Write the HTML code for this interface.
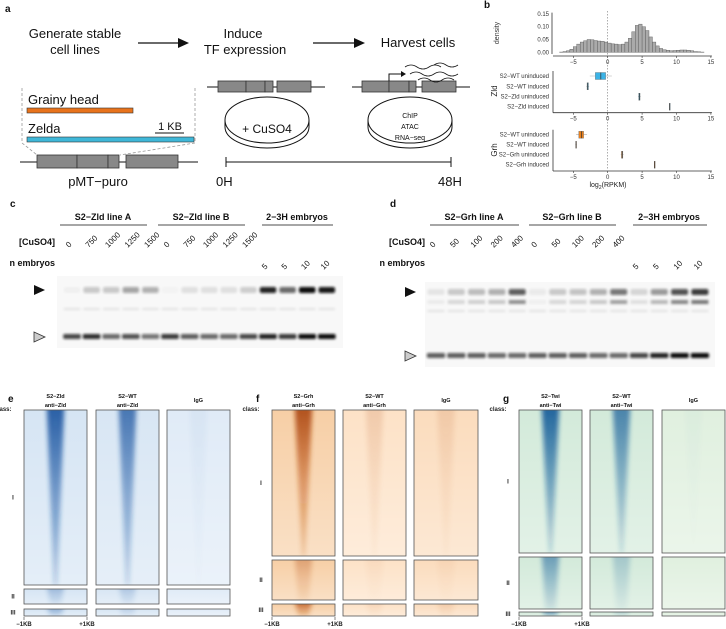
<!DOCTYPE html>
<html><head><meta charset="utf-8"><style>
html,body{margin:0;padding:0;background:#fff;}
svg{display:block;font-family:"Liberation Sans",Arial,sans-serif;}
</style></head><body>
<svg id="fig" width="726" height="629" viewBox="0 0 726 629">
<defs>
<filter id="blur3" x="-50%" y="-10%" width="200%" height="120%"><feGaussianBlur stdDeviation="2.5"/></filter>
<filter id="blur1" x="-20%" y="-80%" width="140%" height="260%"><feGaussianBlur stdDeviation="1.2"/></filter>
<linearGradient id="gBlue" x1="0" y1="0" x2="0" y2="1"><stop offset="0" stop-color="#134f9c" stop-opacity="1"/><stop offset="0.5" stop-color="#1b5aa6" stop-opacity="0.6"/><stop offset="1" stop-color="#1b5aa6" stop-opacity="0.25"/></linearGradient>
<linearGradient id="gOrange" x1="0" y1="0" x2="0" y2="1"><stop offset="0" stop-color="#a8420a" stop-opacity="1"/><stop offset="0.5" stop-color="#c0560f" stop-opacity="0.55"/><stop offset="1" stop-color="#c0560f" stop-opacity="0.2"/></linearGradient>
<linearGradient id="gTeal" x1="0" y1="0" x2="0" y2="1"><stop offset="0" stop-color="#0f5596" stop-opacity="1"/><stop offset="0.5" stop-color="#17629e" stop-opacity="0.6"/><stop offset="1" stop-color="#17629e" stop-opacity="0.2"/></linearGradient>
<linearGradient id="fadeBg" x1="0" y1="0" x2="0" y2="1"><stop offset="0" stop-color="#fff" stop-opacity="0"/><stop offset="1" stop-color="#fff" stop-opacity="0.35"/></linearGradient>
</defs>

<!-- Panel a -->
<g font-size="13" fill="#111">
<text x="5" y="12" font-size="10" font-weight="bold">a</text>
<text x="75" y="38" text-anchor="middle">Generate stable</text>
<text x="75" y="54" text-anchor="middle">cell lines</text>
<line x1="138" y1="43" x2="180" y2="43" stroke="#111" stroke-width="1.2"/>
<polygon points="178,38 189,43 178,48" fill="#111"/>
<text x="243" y="38" text-anchor="middle">Induce</text>
<text x="245" y="54" text-anchor="middle">TF expression</text>
<line x1="313" y1="43" x2="356" y2="43" stroke="#111" stroke-width="1.2"/>
<polygon points="354,38 365,43 354,48" fill="#111"/>
<text x="418" y="47" text-anchor="middle">Harvest cells</text>

<path d="M22,88 V143 L37,155 M195,88 V143 L120,155" fill="none" stroke="#999" stroke-dasharray="3,2" stroke-width="0.8"/>
<text x="28" y="104">Grainy head</text>
<rect x="27" y="108" width="106" height="5" fill="#e8731c" stroke="#333" stroke-width="0.6"/>
<text x="28" y="133">Zelda</text>
<text x="170" y="130" text-anchor="middle" font-size="11">1 KB</text>
<line x1="155" y1="133" x2="184" y2="133" stroke="#111" stroke-width="1"/>
<rect x="27" y="137" width="167" height="5" fill="#3fb7d8" stroke="#333" stroke-width="0.6"/>
<g>
<line x1="20" y1="162" x2="198" y2="162" stroke="#111"/>
<rect x="37" y="155" width="40" height="13" fill="#888" stroke="#333" stroke-width="0.8"/>
<rect x="77" y="155" width="31" height="13" fill="#888" stroke="#333" stroke-width="0.8"/>
<rect x="108" y="155" width="11" height="13" fill="#888" stroke="#333" stroke-width="0.8"/>
<rect x="126" y="155" width="52" height="13" fill="#888" stroke="#333" stroke-width="0.8"/>
</g>
<text x="98" y="186" text-anchor="middle">pMT−puro</text>

<g>
<line x1="207" y1="87" x2="325" y2="87" stroke="#111"/>
<rect x="218" y="81" width="28" height="11" fill="#888" stroke="#333" stroke-width="0.8"/>
<rect x="246" y="81" width="19" height="11" fill="#888" stroke="#333" stroke-width="0.8"/>
<rect x="265" y="81" width="8" height="11" fill="#888" stroke="#333" stroke-width="0.8"/>
<rect x="277" y="81" width="34" height="11" fill="#888" stroke="#333" stroke-width="0.8"/>
</g>
<g fill="none" stroke="#111">
<ellipse cx="267" cy="120" rx="42" ry="23"/>
<path d="M225,127 A42,21 0 0 0 309,127"/>
<line x1="225" y1="120" x2="225" y2="127"/><line x1="309" y1="120" x2="309" y2="127"/>
</g>
<text x="267" y="133" text-anchor="middle" font-size="12">+ CuSO4</text>

<g>
<line x1="352" y1="87" x2="470" y2="87" stroke="#111"/>
<rect x="362" y="81" width="27" height="11" fill="#888" stroke="#333" stroke-width="0.8"/>
<rect x="389" y="81" width="20" height="11" fill="#888" stroke="#333" stroke-width="0.8"/>
<rect x="409" y="81" width="7" height="11" fill="#888" stroke="#333" stroke-width="0.8"/>
<rect x="422" y="81" width="34" height="11" fill="#888" stroke="#333" stroke-width="0.8"/>
<path d="M389,81 V74 H402" fill="none" stroke="#111"/><polygon points="401,71 406,74 401,77" fill="#111"/>
<path d="M405,67 q6,-4 12,0 t12,0 t12,0 M410,74 q6,-4 12,0 t12,0 t12,0 t12,0 M418,80 q6,-4 12,0 t12,0 t12,0 M434,65 q6,-4 12,0 t12,0" fill="none" stroke="#111" stroke-width="0.8"/>
</g>
<g fill="none" stroke="#111">
<ellipse cx="410" cy="120" rx="42" ry="23"/>
<path d="M368,127 A42,21 0 0 0 452,127"/>
<line x1="368" y1="120" x2="368" y2="127"/><line x1="452" y1="120" x2="452" y2="127"/>
</g>
<text x="410" y="118" text-anchor="middle" font-size="7">ChIP</text>
<text x="410" y="129" text-anchor="middle" font-size="7">ATAC</text>
<text x="410" y="140" text-anchor="middle" font-size="7">RNA−seq</text>
<g stroke="#111">
<line x1="226" y1="162" x2="451" y2="162"/><line x1="226" y1="157" x2="226" y2="167"/><line x1="451" y1="157" x2="451" y2="167"/>
</g>
<text x="216" y="186">0H</text>
<text x="438" y="186">48H</text>
</g>

<!-- Panel b -->
<g id="panelB" font-size="6" fill="#333">
<text x="484" y="8" font-size="10" font-weight="bold" fill="#111">b</text>
</g>

<g id="panelC"></g>
<g id="panelD"></g>
<g id="panelH"></g>
</svg>

<script>
// ---------- Panel b data ----------
const histBinStart = -7, histBinWidth = 0.5;
const histDensity = [0.001,0.003,0.006,0.012,0.022,0.032,0.040,0.045,0.050,0.049,0.046,0.044,0.043,0.040,0.036,0.033,0.032,0.030,0.032,0.040,0.055,0.080,0.105,0.110,0.100,0.085,0.060,0.040,0.025,0.015,0.010,0.008,0.006,0.007,0.008,0.009,0.009,0.008,0.006,0.003,0.002,0.001];
const xTicks = [-5,0,5,10,15];
const yTicks = [0,0.05,0.10,0.15];
const zldLabels = ["S2−WT uninduced","S2−WT induced","S2−Zld uninduced","S2−Zld induced"];
const zldMed = [-1.0,-2.9,4.6,9.0];
const zldQ1 = [-1.8,-3.0,4.5,8.98];
const zldQ3 = [-0.3,-2.8,4.7,9.02];
const zldWlo = [-2.6,-3.1,4.4,8.98];
const zldWhi = [0.6,-2.7,4.8,9.02];
const grhLabels = ["S2−WT uninduced","S2−WT induced","S2−Grh uninduced","S2−Grh induced"];
const grhMed = [-3.8,-4.6,2.1,6.8];
const grhQ1 = [-4.2,-4.65,2.0,6.78];
const grhQ3 = [-3.5,-4.55,2.2,6.82];
const grhWlo = [-4.6,-4.7,1.9,6.78];
const grhWhi = [-3.0,-4.5,2.3,6.82];

// ---------- Gel data (relative band intensity 0..1) ----------
const cLanesTop = [0.03,0.2,0.2,0.35,0.3,0.02,0.1,0.1,0.1,0.18,0.9,0.6,1.0,0.95];
const cLanesBottom = [0.75,0.85,0.6,0.7,0.55,0.8,0.65,0.6,0.6,0.75,0.9,0.8,1.0,1.0];
const dLanesTop = [0.08,0.2,0.25,0.3,0.65,0.06,0.2,0.22,0.3,0.55,0.15,0.4,0.7,0.8];
const dLanesBottom = [0.65,0.65,0.65,0.6,0.6,0.65,0.65,0.65,0.6,0.6,0.75,0.9,1.0,1.0];
const cDoses = ["0","750","1000","1250","1500","0","750","1000","1250","1500"];
const dDoses = ["0","50","100","200","400","0","50","100","200","400"];
const nEmbryos = ["5","5","10","10"];

const NS="http://www.w3.org/2000/svg";
function el(tag, attrs, parent, txt){const e=document.createElementNS(NS,tag);for(const k in attrs)e.setAttribute(k,attrs[k]);if(txt!==undefined)e.textContent=txt;parent.appendChild(e);return e;}

// ----- panel b -----
(function(){
const g=document.getElementById('panelB');
const X=v=>607.7+6.88*v;
const Yh=d=>52.3-d*256;
el('line',{x1:552,y1:Yh(0.155),x2:552,y2:54,stroke:'#333','stroke-width':0.8},g);
yTicks.forEach(t=>{
  const l=el('text',{x:549,y:Yh(t)+2,'text-anchor':'end'},g,t.toFixed(2));
  
  
});
const yl=el('text',{x:0,y:0,transform:'translate(499,33) rotate(-90)','text-anchor':'middle','font-size':7},g,'density');


el('line',{x1:X(0),y1:11,x2:X(0),y2:170,stroke:'#777','stroke-width':0.6,'stroke-dasharray':'1.5,1.5'},g);
histDensity.forEach((d,i)=>{
  const x0=X(histBinStart+i*histBinWidth), x1=X(histBinStart+(i+1)*histBinWidth);
  const r=el('rect',{x:x0,y:Yh(d),width:x1-x0,height:Yh(0)-Yh(d),fill:'#aaa',stroke:'#555','stroke-width':0.4},g);
  
  
});
function xaxis(y){
  el('line',{x1:553,y1:y,x2:X(15)+1,y2:y,stroke:'#333','stroke-width':0.8},g);
  xTicks.forEach(t=>{
    el('line',{x1:X(t),y1:y,x2:X(t),y2:y+2,stroke:'#333','stroke-width':0.6},g);
    const l=el('text',{x:X(t),y:y+8,'text-anchor':'middle'},g,t<0?'−'+(-t):String(t));
    
    
  });
}
xaxis(56);
function boxes(rows,labels,med,q1,q3,wlo,whi,col,axisY,title,titleY){
  el('line',{x1:553,y1:rows[0]-5,x2:553,y2:axisY,stroke:'#333','stroke-width':0.8},g);
  labels.forEach((lab,i)=>{
    const y=rows[i];
    const t=el('text',{x:549,y:y+2,'text-anchor':'end'},g,lab);
    
    
    el('line',{x1:X(wlo[i]),y1:y,x2:X(whi[i]),y2:y,stroke:'#aaa','stroke-width':0.6},g);
    const b=el('rect',{x:X(q1[i]),y:y-3.5,width:Math.max(0.8,X(q3[i])-X(q1[i])),height:7,fill:col,stroke:'#777','stroke-width':0.4},g);
    
    
    el('line',{x1:X(med[i]),y1:y-3.5,x2:X(med[i]),y2:y+3.5,stroke:'#333','stroke-width':0.7},g);
  });
  xaxis(axisY);
  const tt=el('text',{x:0,y:0,transform:'translate(497,'+titleY+') rotate(-90)','text-anchor':'middle','font-size':8,fill:'#222'},g,title);
  
  
}
boxes([76,86.3,96.7,106.7],zldLabels,zldMed,zldQ1,zldQ3,zldWlo,zldWhi,'#3bb3e6',112.7,'Zld',91);
boxes([134.7,144.7,154.7,164.7],grhLabels,grhMed,grhQ1,grhQ3,grhWlo,grhWhi,'#e8801e',171,'Grh',150);
const xt=el('text',{x:608,y:187,'text-anchor':'middle','font-size':7,fill:'#222'},g);


xt.innerHTML='log<tspan font-size="5" dy="2">2</tspan><tspan dy="-2">(RPKM)</tspan>';
})();

// ----- gels -----
function gel(gid,o){
  const g=document.getElementById(gid);
  el('text',{x:o.labelX,y:207,'font-size':10,'font-weight':'bold',fill:'#111'},g,o.letter);
  o.groups.forEach(gr=>{
    const t=el('text',{x:gr.cx,y:220,'text-anchor':'middle','font-size':9,'font-weight':'bold',fill:'#111'},g,gr.t);
    
    
    el('line',{x1:gr.x1,y1:225,x2:gr.x2,y2:225,stroke:'#111','stroke-width':0.8},g);
  });
  const c1=el('text',{x:o.rowLabelX,y:245,'text-anchor':'end','font-size':9,'font-weight':'bold',fill:'#111'},g,'[CuSO4]');
  
  const c2=el('text',{x:o.rowLabelX,y:266,'text-anchor':'end','font-size':9,'font-weight':'bold',fill:'#111'},g,'n embryos');
  
  const lc=i=>o.lane0+i*o.laneW;
  o.doses.forEach((d,i)=>{
    const t=el('text',{x:0,y:0,transform:'translate('+(lc(i)-3)+',248) rotate(-45)','font-size':8,fill:'#111'},g,d);
    
  });
  nEmbryos.forEach((d,i)=>{
    const t=el('text',{x:0,y:0,transform:'translate('+(lc(10+i)-3)+',270) rotate(-45)','font-size':8,fill:'#111'},g,d);
    
  });
  el('rect',{x:o.gx,y:o.gy,width:o.gw,height:o.gh,fill:'#f8f8f8'},g);
  o.top.forEach((v,i)=>{
    const r=el('rect',{x:lc(i)-o.laneW*0.42,y:o.topY-3,width:o.laneW*0.84,height:6,rx:2,fill:'#111',opacity:v,filter:'url(#blur1)'},g);
    
    if(o.second) el('rect',{x:lc(i)-o.laneW*0.42,y:o.topY+8,width:o.laneW*0.84,height:4,fill:'#222',opacity:v*0.75,filter:'url(#blur1)'},g);
    el('rect',{x:lc(i)-o.laneW*0.42,y:o.topY+18,width:o.laneW*0.84,height:2,fill:'#888',opacity:0.2,filter:'url(#blur1)'},g);
  });
  o.bottom.forEach((v,i)=>{
    const r=el('rect',{x:lc(i)-o.laneW*0.45,y:o.botY-3,width:o.laneW*0.9,height:5,rx:1.5,fill:'#111',opacity:v,filter:'url(#blur1)'},g);
    
  });
  el('polygon',{points:(o.arrX)+','+(o.topY-5)+' '+(o.arrX+11)+','+o.topY+' '+o.arrX+','+(o.topY+5),fill:'#111'},g);
  el('polygon',{points:(o.arrX)+','+(o.botY-5)+' '+(o.arrX+11)+','+o.botY+' '+o.arrX+','+(o.botY+5),fill:'#ccc',stroke:'#333','stroke-width':0.8},g);
}
gel('panelC',{letter:'c',labelX:10,rowLabelX:55,groups:[{t:'S2−Zld line A',cx:103,x1:60,x2:147},{t:'S2−Zld line B',cx:201,x1:158,x2:245},{t:'2−3H embryos',cx:297,x1:262,x2:333}],
 doses:cDoses,lane0:72,laneW:19.6,gx:57,gy:276,gw:286,gh:72,topY:290,botY:337,second:false,top:cLanesTop,bottom:cLanesBottom,arrX:34});
gel('panelD',{letter:'d',labelX:390,rowLabelX:425,groups:[{t:'S2−Grh line A',cx:474,x1:430,x2:519},{t:'S2−Grh line B',cx:572,x1:529,x2:616},{t:'2−3H embryos',cx:669,x1:633,x2:707}],
 doses:dDoses,lane0:436,laneW:20.3,gx:425,gy:282,gw:290,gh:85,topY:292,botY:356,second:true,top:dLanesTop,bottom:dLanesBottom,arrX:405});

// ----- heatmaps -----
const H=document.getElementById('panelH');
let gid=0;
function heat(x,y,w,h,base,grad,str,taper,name){
  const cid='c'+(gid++);
  const cp=el('clipPath',{id:cid},H); el('rect',{x:x,y:y,width:w,height:h},cp);
  const g=el('g',{'clip-path':'url(#'+cid+')'},H);
  el('rect',{x:x,y:y,width:w,height:h,fill:base},g);
  el('rect',{x:x,y:y,width:w,height:h,fill:'url(#fadeBg)'},g);
  const cx=x+w/2, tw=w*0.14;
  if(str>0){
    el('polygon',{points:(cx-tw)+','+(y-4)+' '+(cx+tw)+','+(y-4)+' '+(cx+tw*taper)+','+(y+h)+' '+(cx-tw*taper)+','+(y+h),fill:'url(#'+grad+')',opacity:str,filter:'url(#blur3)'},g);
  }
  const r=el('rect',{x:x,y:y,width:w,height:h,fill:'none',stroke:'#555','stroke-width':0.8},H);
  
  
}
function panel(letter,lx,cols,rows,titles,base,grad,strengths){
  el('text',{x:lx,y:402,'font-size':10,'font-weight':'bold',fill:'#111'},H,letter);
  el('text',{x:lx-5,y:411,'text-anchor':'middle','font-size':6,'font-weight':'bold',fill:'#222'},H,'class:');
  ['I','II','III'].forEach((n,k)=>{
    el('text',{x:lx+5,y:(rows[k][0]+rows[k][1])/2+2,'text-anchor':'middle','font-size':6,'font-weight':'bold',fill:'#222'},H,n);
  });
  cols.forEach((c,j)=>{
    if(titles[j][1]){
      el('text',{x:(c[0]+c[1])/2,y:398,'text-anchor':'middle','font-size':5.5,'font-weight':'bold',fill:'#111'},H,titles[j][0]);
      el('text',{x:(c[0]+c[1])/2,y:407,'text-anchor':'middle','font-size':5.5,'font-weight':'bold',fill:'#111'},H,titles[j][1]);
    } else el('text',{x:(c[0]+c[1])/2,y:402,'text-anchor':'middle','font-size':5.5,'font-weight':'bold',fill:'#111'},H,titles[j][0]);
    rows.forEach((r,k)=>{
      heat(c[0],r[0],c[1]-c[0],r[1]-r[0],base[j],grad,strengths[j][k],k==0?0.2:0.6,'heatmap-'+letter+'-col'+(j+1)+'-class'+(k+1));
    });
  });
  const c=cols[0];
  el('text',{x:c[0],y:626,'text-anchor':'middle','font-size':6,'font-weight':'bold',fill:'#222'},H,'−1KB');
  el('text',{x:c[1],y:626,'text-anchor':'middle','font-size':6,'font-weight':'bold',fill:'#222'},H,'+1KB');
  el('line',{x1:c[0],y1:617,x2:c[0],y2:620,stroke:'#333','stroke-width':0.6},H);
  el('line',{x1:c[1],y1:617,x2:c[1],y2:620,stroke:'#333','stroke-width':0.6},H);
}
panel('e',8,[[24,87],[96,159],[167,230]],[[410,585],[589,604],[609,616]],
 [['S2−Zld','anti−Zld'],['S2−WT','anti−Zld'],['IgG']],['#d6e5f4','#d8e6f4','#e0ebf7'],'gBlue',[[0.9,0.35,0.5],[0.75,0.25,0.2],[0.04,0,0]]);
panel('f',256,[[272,335],[343,406],[414,478]],[[410,556],[560,600],[604,616]],
 [['S2−Grh','anti−Grh'],['S2−WT','anti−Grh'],['IgG']],['#f7cfa6','#fde2c7','#fbdcbd'],'gOrange',[[0.9,0.35,0.9],[0.15,0.05,0.1],[0.12,0.05,0.15]]);
panel('g',503,[[519,582],[590,653],[662,725]],[[410,553],[557,609],[612,616]],
 [['S2−Twi','anti−Twi'],['S2−WT','anti−Twi'],['IgG']],['#d3eada','#d3eada','#e0f0df'],'gTeal',[[0.9,0.55,0.9],[0.7,0.25,0.3],[0.02,0,0]]);
</script>
</body></html>
